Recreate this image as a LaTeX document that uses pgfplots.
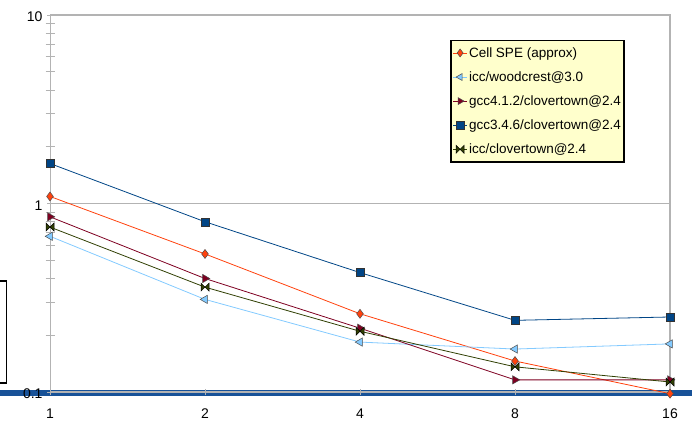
\documentclass[border=0pt]{standalone}
\usepackage{pgfplots}
\pgfplotsset{compat=1.18}
\usepackage{fontspec}
\setmainfont{Liberation Sans}
\definecolor{cOrange}{HTML}{FF420E}
\definecolor{cLight}{HTML}{83CAFF}
\definecolor{cMaroon}{HTML}{7E0021}
\definecolor{cBlue}{HTML}{004586}
\definecolor{cOlive}{HTML}{314004}
\definecolor{cGrid}{HTML}{B3B3B3}
\definecolor{cBar}{RGB}{24,82,152}
\definecolor{cLegend}{HTML}{FFFFCC}
\pgfdeclareplotmark{bowtie}{%
  \pgfpathmoveto{\pgfqpoint{-\pgfplotmarksize}{\pgfplotmarksize}}%
  \pgfpathlineto{\pgfqpoint{\pgfplotmarksize}{-\pgfplotmarksize}}%
  \pgfpathlineto{\pgfqpoint{\pgfplotmarksize}{\pgfplotmarksize}}%
  \pgfpathlineto{\pgfqpoint{-\pgfplotmarksize}{-\pgfplotmarksize}}%
  \pgfpathclose\pgfusepathqfillstroke}
\begin{document}
\begin{tikzpicture}[x=1pt,y=1pt]
\useasboundingbox (0,0) rectangle (692,420);
\draw[line width=6.5pt,cBar] (0,27.2) -- (692,27.2);
\draw[line width=1.6pt,black] (-5,37) rectangle (6.5,139);
\begin{axis}[
  at={(50pt,28pt)}, anchor=south west,
  scale only axis, width=620pt, height=377pt,
  xmin=0, xmax=4, ymode=log, ymin=0.1, ymax=10,
  xtick={0,1,2,3,4}, xticklabels={1,2,4,8,16},
  ytick={0.1,1,10}, yticklabels={0.1,1,10},
  minor ytick={0.2,0.3,0.4,0.5,0.6,0.7,0.8,0.9,2,3,4,5,6,7,8,9},
  ymajorgrids, major grid style={cGrid, line width=1.3pt},
  axis line style={cGrid, line width=1pt},
  tick style={cGrid, line width=0.8pt},
  major tick length=6pt, minor tick length=9pt,
  tick align=center,
  axis x line*=bottom, axis y line*=left,
  xticklabel style={font=\fontsize{14}{16}\selectfont, yshift=-10pt},
  yticklabel style={font=\fontsize{14}{16}\selectfont, xshift=-1pt, yshift=-2pt},
  /pgf/number format/assume math mode=true,
  clip=false,
  legend style={at={(0.645,0.935)}, anchor=north west, fill=cLegend, draw=black, line width=1.6pt,
    font=\fontsize{13.5}{15}\selectfont, row sep=8.8pt, inner xsep=2pt, inner ysep=5pt,
    nodes={inner xsep=1.5pt}},
  legend cell align=left,
  legend image code/.code={\draw[#1, line width=0.8pt] (0pt,0pt) -- (14pt,0pt); \draw[#1,mark size=4pt] plot coordinates {(7pt,0pt)};},
]
\draw[cGrid, line width=1.3pt] (rel axis cs:0,1) -- (rel axis cs:1,1) -- (rel axis cs:1,0);
\addplot[cOrange, line width=0.8pt, mark=diamond*, mark size=4.5pt, mark options={fill=cOrange, draw=black!70, line width=0.5pt}]
  coordinates {(0,1.09) (1,0.54) (2,0.26) (3,0.146) (4,0.098)};
\addlegendentry{Cell SPE (approx)}
\addplot[cLight, line width=0.8pt, mark=triangle*, mark size=4.8pt, mark options={rotate=90, fill=cLight, draw=black!70, line width=0.5pt}]
  coordinates {(0,0.67) (1,0.31) (2,0.184) (3,0.169) (4,0.18)};
\addlegendentry{icc/woodcrest@3.0}
\addplot[cMaroon, line width=0.8pt, mark=triangle*, mark size=4.8pt, mark options={rotate=-90, fill=cMaroon, draw=black!70, line width=0.5pt}]
  coordinates {(0,0.85) (1,0.40) (2,0.218) (3,0.116) (4,0.116)};
\addlegendentry{gcc4.1.2/clovertown@2.4}
\addplot[cBlue, line width=0.8pt, mark=square*, mark size=4pt, mark options={fill=cBlue, draw=black!80, line width=0.5pt}]
  coordinates {(0,1.63) (1,0.80) (2,0.43) (3,0.24) (4,0.25)};
\addlegendentry{gcc3.4.6/clovertown@2.4}
\addplot[cOlive, line width=0.8pt, mark=bowtie, mark size=4pt, mark options={fill=cOlive, draw=black, line width=0.5pt}]
  coordinates {(0,0.75) (1,0.36) (2,0.21) (3,0.136) (4,0.113)};
\addlegendentry{icc/clovertown@2.4}
\end{axis}
\end{tikzpicture}
\end{document}
